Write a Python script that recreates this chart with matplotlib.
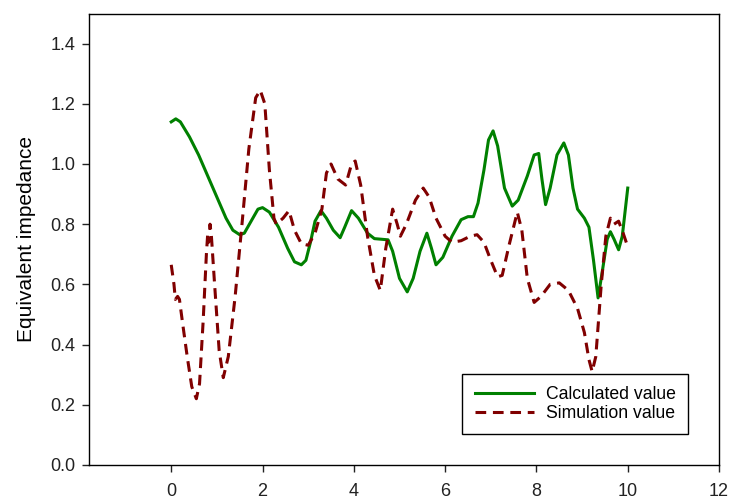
import matplotlib
matplotlib.use("Agg")
import matplotlib.pyplot as plt

plt.rcParams['font.family'] = ['Liberation Sans', 'DejaVu Sans']

calc_x = [0.0, 0.1, 0.2, 0.4, 0.6, 0.8, 1.0, 1.2, 1.35, 1.5, 1.6, 1.75, 1.9, 2.0,
          2.15, 2.35, 2.55, 2.7, 2.85, 2.95, 3.05, 3.15, 3.28, 3.4, 3.55, 3.7, 3.8,
          3.95, 4.1, 4.3, 4.45, 4.6, 4.75, 4.85, 5.0, 5.17, 5.3, 5.45, 5.6, 5.7, 5.8,
          5.95, 6.15, 6.35, 6.5, 6.62, 6.72, 6.85, 6.95, 7.05, 7.15, 7.3, 7.47, 7.6,
          7.8, 7.95, 8.05, 8.12, 8.2, 8.3, 8.45, 8.6, 8.7, 8.8, 8.9, 9.05, 9.15, 9.25,
          9.35, 9.45, 9.55, 9.62, 9.7, 9.8, 9.88, 10.0]
calc_y = [1.14, 1.15, 1.14, 1.09, 1.03, 0.96, 0.89, 0.82, 0.78, 0.765, 0.77, 0.81, 0.85, 0.855,
          0.84, 0.79, 0.72, 0.675, 0.665, 0.68, 0.74, 0.81, 0.845, 0.82, 0.78, 0.755, 0.79,
          0.845, 0.82, 0.77, 0.752, 0.75, 0.748, 0.71, 0.62, 0.575, 0.62, 0.71, 0.77, 0.72, 0.665,
          0.69, 0.76, 0.815, 0.825, 0.825, 0.87, 0.98, 1.08, 1.11, 1.06, 0.92, 0.86, 0.88,
          0.96, 1.03, 1.035, 0.95, 0.865, 0.92, 1.03, 1.07, 1.03, 0.92, 0.85, 0.82, 0.79, 0.68,
          0.555, 0.65, 0.75, 0.775, 0.75, 0.715, 0.76, 0.92]

sim_x = [0.0, 0.06, 0.09, 0.14, 0.18, 0.25, 0.35, 0.45, 0.55, 0.62, 0.7, 0.77, 0.8, 0.82,
         0.85, 0.88, 0.95, 1.05, 1.14, 1.25, 1.4, 1.55, 1.7, 1.85, 1.95, 2.05, 2.15, 2.25,
         2.3, 2.45, 2.58, 2.7, 2.85, 3.0, 3.15, 3.3, 3.4, 3.5, 3.65, 3.82, 3.95, 4.03, 4.15,
         4.3, 4.45, 4.58, 4.7, 4.85, 4.95, 5.02, 5.15, 5.35, 5.52, 5.65, 5.8, 6.0, 6.15,
         6.35, 6.55, 6.7, 6.85, 7.0, 7.15, 7.25, 7.4, 7.58, 7.68, 7.8, 7.95, 8.1, 8.3, 8.5,
         8.7, 8.9, 9.05, 9.15, 9.22, 9.3, 9.42, 9.52, 9.62, 9.7, 9.8, 9.9, 10.0]
sim_y = [0.665, 0.6, 0.55, 0.56, 0.55, 0.47, 0.36, 0.26, 0.22, 0.27, 0.48, 0.7, 0.77, 0.74,
         0.8, 0.76, 0.6, 0.38, 0.29, 0.36, 0.56, 0.8, 1.05, 1.22, 1.245, 1.2, 0.98, 0.82,
         0.8, 0.82, 0.845, 0.78, 0.735, 0.73, 0.77, 0.85, 0.97, 1.0, 0.95, 0.93, 1.0, 1.01, 0.93,
         0.76, 0.63, 0.58, 0.72, 0.85, 0.8, 0.76, 0.8, 0.88, 0.92, 0.89, 0.82, 0.76, 0.74,
         0.745, 0.76, 0.765, 0.74, 0.68, 0.625, 0.63, 0.73, 0.84, 0.78, 0.62, 0.54, 0.56, 0.6, 0.605,
         0.58, 0.52, 0.44, 0.35, 0.31, 0.36, 0.6, 0.76, 0.82, 0.8, 0.81, 0.77, 0.725]

fig = plt.figure(figsize=(7.3, 5.01), dpi=100)
ax = fig.add_axes([0.122, 0.072, 0.863, 0.901])

ax.plot(calc_x, calc_y, color='#008000', lw=2.2, label='Calculated value',
        solid_joinstyle='round')
ax.plot(sim_x, sim_y, color='#800000', lw=2.2, dashes=(3.5, 2.2), label='Simulation value',
        dash_joinstyle='round')

ax.set_xlim(-1.8, 12)
ax.set_ylim(0, 1.5)
ax.set_xticks(range(0, 13, 2))
ax.set_yticks([0.0, 0.2, 0.4, 0.6, 0.8, 1.0, 1.2, 1.4])
ax.set_yticklabels(['0.0', '0.2', '0.4', '0.6', '0.8', '1.0', '1.2', '1.4'])
ax.tick_params(direction='out', length=5, width=1, labelsize=13, pad=8, colors='#222222')
ax.tick_params(axis='y', pad=5)
ax.set_ylabel('Equivalent impedance', fontsize=15, labelpad=10)
for s in ax.spines.values():
    s.set_linewidth(1.0)

leg = ax.legend(loc='lower right', bbox_to_anchor=(0.951, 0.068), fontsize=12.7,
                frameon=True, fancybox=False, edgecolor='black', framealpha=1,
                handlelength=3.35, borderpad=0.7, labelspacing=0.08, handletextpad=0.7,
                borderaxespad=0)
leg.get_frame().set_linewidth(1.0)

fig.savefig('out.png', dpi=100)
